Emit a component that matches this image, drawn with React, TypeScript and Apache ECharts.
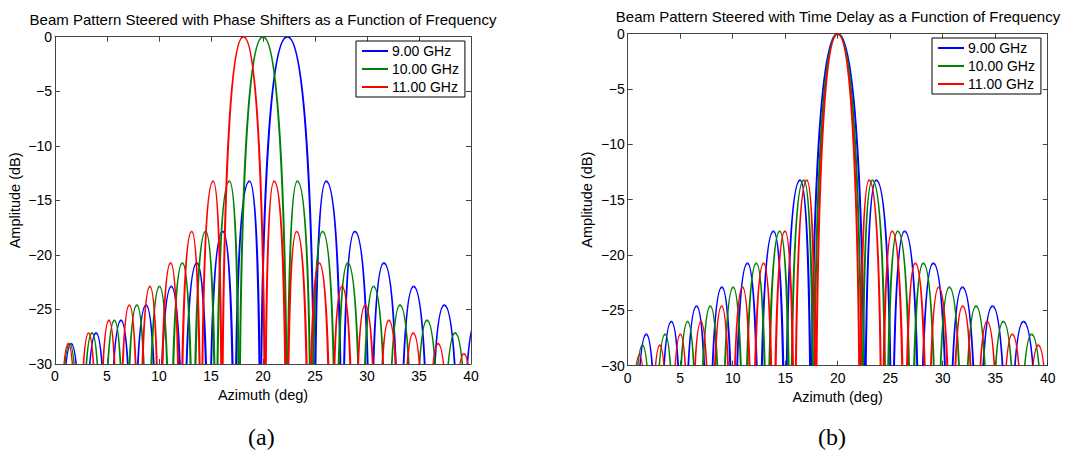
import React, { useEffect, useRef } from "react";
import * as echarts from "echarts";

// ---- data ----
// each lobe: [left null (deg), peak azimuth (deg), right null (deg), peak level (dB)]
const freqNames = ["9.00 GHz", "10.00 GHz", "11.00 GHz"];
const lineColors = ["#0000ff", "#008000", "#ff0000"];
const azimuthTicks = [0, 5, 10, 15, 20, 25, 30, 35, 40];
const amplitudeTicks = [-30, -25, -20, -15, -10, -5, 0];

// (a) steered with phase shifters
const phase9 = [
  [0.34, 1.56, 2.73, -28.15], [2.73, 3.95, 5.11, -27.15], [5.11, 6.35, 7.51, -26.0],
  [7.51, 8.76, 9.92, -24.6], [9.92, 11.19, 12.35, -22.9], [12.35, 13.64, 14.79, -20.75],
  [14.79, 16.13, 17.27, -17.85], [17.27, 18.7, 19.78, -13.25], [19.78, 22.34, 24.93, 0],
  [24.93, 26.07, 27.59, -13.25], [27.59, 28.83, 30.31, -17.85], [30.31, 31.62, 33.11, -20.75],
  [33.11, 34.48, 36.0, -22.9], [36.0, 37.43, 39.0, -24.6], [39.0, 40.5, 42.14, -26.0],
];
const phase10 = [
  [0.31, 1.41, 2.45, -28.15], [2.45, 3.56, 4.6, -27.15], [4.6, 5.71, 6.75, -26.0],
  [6.75, 7.87, 8.92, -24.6], [8.92, 10.05, 11.09, -22.9], [11.09, 12.25, 13.29, -20.75],
  [13.29, 14.48, 15.5, -17.85], [15.5, 16.77, 17.74, -13.25], [17.74, 20.0, 22.3, 0],
  [22.3, 23.3, 24.63, -13.25], [24.63, 25.72, 27.01, -17.85], [27.01, 28.15, 29.45, -20.75],
  [29.45, 30.63, 31.94, -22.9], [31.94, 33.17, 34.5, -24.6], [34.5, 35.77, 37.14, -26.0],
  [37.14, 38.47, 39.88, -27.15], [39.88, 41.26, 42.74, -28.15],
];
const phase11 = [
  [0.28, 1.28, 2.23, -28.15], [2.23, 3.23, 4.18, -27.15], [4.18, 5.19, 6.14, -26.0],
  [6.14, 7.15, 8.1, -24.6], [8.1, 9.13, 10.07, -22.9], [10.07, 11.12, 12.06, -20.75],
  [12.06, 13.14, 14.06, -17.85], [14.06, 15.21, 16.08, -13.25], [16.08, 18.12, 20.18, 0],
  [20.18, 21.07, 22.27, -13.25], [22.27, 23.24, 24.39, -17.85], [24.39, 25.4, 26.55, -20.75],
  [26.55, 27.59, 28.75, -22.9], [28.75, 29.82, 30.99, -24.6], [30.99, 32.1, 33.29, -26.0],
  [33.29, 34.44, 35.66, -27.15], [35.66, 36.84, 38.09, -28.15], [38.09, 39.31, 40.61, -29.05],
];

// (b) steered with time delay
const delay9 = [
  [0.55, 1.77, 2.93, -27.15], [2.93, 4.16, 5.32, -26.0], [5.32, 6.56, 7.71, -24.6],
  [7.71, 8.97, 10.13, -22.9], [10.13, 11.41, 12.55, -20.75], [12.55, 13.88, 15.01, -17.85],
  [15.01, 16.42, 17.49, -13.25], [17.49, 20.0, 22.56, 0], [22.56, 23.67, 25.16, -13.25],
  [25.16, 26.37, 27.82, -17.85], [27.82, 29.1, 30.55, -20.75], [30.55, 31.88, 33.35, -22.9],
  [33.35, 34.74, 36.25, -24.6], [36.25, 37.7, 39.27, -26.0], [39.27, 40.78, 42.41, -27.15],
];
const delay10 = [
  [0.31, 1.41, 2.45, -28.15], [2.45, 3.56, 4.6, -27.15], [4.6, 5.71, 6.75, -26.0],
  [6.75, 7.87, 8.92, -24.6], [8.92, 10.05, 11.09, -22.9], [11.09, 12.25, 13.29, -20.75],
  [13.29, 14.48, 15.5, -17.85], [15.5, 16.77, 17.74, -13.25], [17.74, 20.0, 22.3, 0],
  [22.3, 23.3, 24.63, -13.25], [24.63, 25.72, 27.01, -17.85], [27.01, 28.15, 29.45, -20.75],
  [29.45, 30.63, 31.94, -22.9], [31.94, 33.17, 34.5, -24.6], [34.5, 35.77, 37.14, -26.0],
  [37.14, 38.47, 39.88, -27.15], [39.88, 41.26, 42.74, -28.15],
];
const delay11 = [
  [0.12, 1.11, 2.06, -29.05], [2.06, 3.06, 4.02, -28.15], [4.02, 5.02, 5.97, -27.15],
  [5.97, 6.98, 7.93, -26.0], [7.93, 8.95, 9.91, -24.6], [9.91, 10.94, 11.89, -22.9],
  [11.89, 12.94, 13.89, -20.75], [13.89, 14.98, 15.9, -17.85], [15.9, 17.06, 17.94, -13.25],
  [17.94, 20.0, 22.09, 0], [22.09, 22.99, 24.21, -13.25], [24.21, 25.19, 26.36, -17.85],
  [26.36, 27.39, 28.56, -20.75], [28.56, 29.62, 30.8, -22.9], [30.8, 31.9, 33.09, -24.6],
  [33.09, 34.23, 35.45, -26.0], [35.45, 36.63, 37.88, -27.15], [37.88, 39.1, 40.39, -28.15],
];

const FONT = "Liberation Sans, Arial, Helvetica, sans-serif";
const AXIS_COLOR = "#444444";

function minusFmt(v: number) {
  return v < 0 ? "\u2212" + Math.abs(v) : String(v);
}

function lobeRenderer(color: string) {
  return (_params: any, api: any) => {
    const nL = api.value(0);
    const p = api.value(1);
    const nR = api.value(2);
    const lv = api.value(3);
    const depth = 40;
    const k = lv === 0 ? 0.75 : 0.9;
    const c = (x: number, y: number) => api.coord([x, y]);
    const A = c(nL, lv - depth);
    const A1 = c(nL, lv - depth / 2);
    const A2 = c(p - k * (p - nL), lv);
    const P = c(p, lv);
    const B1 = c(p + k * (nR - p), lv);
    const B2 = c(nR, lv - depth / 2);
    const B = c(nR, lv - depth);
    const style = { stroke: color, lineWidth: 2, fill: "none" };
    return {
      type: "group",
      children: [
        {
          type: "bezierCurve",
          shape: { x1: A[0], y1: A[1], cpx1: A1[0], cpy1: A1[1], cpx2: A2[0], cpy2: A2[1], x2: P[0], y2: P[1] },
          style,
        },
        {
          type: "bezierCurve",
          shape: { x1: P[0], y1: P[1], cpx1: B1[0], cpy1: B1[1], cpx2: B2[0], cpy2: B2[1], x2: B[0], y2: B[1] },
          style,
        },
      ],
    };
  };
}

function makeAxes(gridIndex: number) {
  const common = {
    gridIndex,
    type: "value" as const,
    axisLine: { show: true, onZero: false, lineStyle: { color: AXIS_COLOR, width: 1 } },
    axisTick: { show: true, inside: true, length: 5, lineStyle: { color: AXIS_COLOR } },
    splitLine: { show: false },
  };
  const xAxes = [
    {
      ...common,
      position: "bottom",
      min: azimuthTicks[0],
      max: azimuthTicks[azimuthTicks.length - 1],
      interval: 5,
      name: "Azimuth (deg)",
      nameLocation: "middle",
      nameGap: 20,
      nameTextStyle: { fontFamily: FONT, fontSize: 14.5, color: "#000" },
      axisLabel: { fontFamily: FONT, fontSize: 14, color: "#000", margin: 5 },
    },
    {
      ...common,
      position: "top",
      min: azimuthTicks[0],
      max: azimuthTicks[azimuthTicks.length - 1],
      interval: 5,
      axisLabel: { show: false },
    },
  ];
  const yAxes = [
    {
      ...common,
      position: "left",
      min: amplitudeTicks[0],
      max: amplitudeTicks[amplitudeTicks.length - 1],
      interval: 5,
      name: "Amplitude (dB)",
      nameLocation: "middle",
      nameGap: 33,
      nameTextStyle: { fontFamily: FONT, fontSize: 14.5, color: "#000" },
      axisLabel: { fontFamily: FONT, fontSize: 14, color: "#000", margin: 3, formatter: minusFmt },
    },
    {
      ...common,
      position: "right",
      min: amplitudeTicks[0],
      max: amplitudeTicks[amplitudeTicks.length - 1],
      interval: 5,
      axisLabel: { show: false },
    },
  ];
  return { xAxes, yAxes };
}

function legendFor(left: number, top: number) {
  return {
    orient: "vertical",
    left,
    top,
    data: freqNames,
    icon: "rect",
    itemWidth: 26,
    itemHeight: 2,
    itemGap: 4,
    padding: [3, 6, 3, 6],
    borderColor: "#000",
    borderWidth: 1,
    backgroundColor: "#fff",
    selectedMode: false,
    textStyle: { fontFamily: FONT, fontSize: 14, color: "#000", padding: [0, 0, 0, -1] },
  };
}

export default function App() {
  const ref = useRef<HTMLDivElement>(null);
  useEffect(() => {
    if (!ref.current) return;
    const chart = echarts.init(ref.current, undefined, { renderer: "svg" });
    const a = makeAxes(0);
    const b = makeAxes(1);
    const seriesA = [phase9, phase10, phase11];
    const seriesB = [delay9, delay10, delay11];
    const series: any[] = [];
    seriesA.forEach((d, i) => {
      series.push({
        type: "custom",
        name: freqNames[i],
        xAxisIndex: 0,
        yAxisIndex: 0,
        clip: true,
        itemStyle: { color: lineColors[i] },
        encode: { x: [0, 1, 2], y: 3 },
        renderItem: lobeRenderer(lineColors[i]),
        data: d,
        silent: true,
      });
    });
    seriesB.forEach((d, i) => {
      series.push({
        type: "custom",
        name: freqNames[i],
        xAxisIndex: 2,
        yAxisIndex: 2,
        clip: true,
        itemStyle: { color: lineColors[i] },
        encode: { x: [0, 1, 2], y: 3 },
        renderItem: lobeRenderer(lineColors[i]),
        data: d,
        silent: true,
      });
    });
    chart.setOption({
      animation: false,
      backgroundColor: "#fff",
      title: [
        {
          text: "Beam Pattern Steered with Phase Shifters as a Function of Frequency",
          left: 263,
          top: 12,
          padding: 0,
          textAlign: "center",
          textStyle: { fontFamily: FONT, fontSize: 15, fontWeight: "normal", color: "#000" },
        },
        {
          text: "Beam Pattern Steered with Time Delay as a Function of Frequency",
          left: 838,
          top: 9,
          padding: 0,
          textAlign: "center",
          textStyle: { fontFamily: FONT, fontSize: 15, fontWeight: "normal", color: "#000" },
        },
      ],
      legend: [legendFor(356, 41), legendFor(932, 38)],
      grid: [
        { left: 55, top: 36.7, width: 416, height: 327.3, show: false },
        { left: 627.7, top: 33.7, width: 420, height: 332, show: false },
      ],
      xAxis: [...a.xAxes, ...b.xAxes],
      yAxis: [...a.yAxes, ...b.yAxes],
      graphic: [
        {
          type: "text",
          left: 248,
          top: 425,
          style: { text: "(a)", font: "24px 'Liberation Serif', serif", fill: "#000", textAlign: "center" },
        },
        {
          type: "text",
          left: 818,
          top: 425,
          style: { text: "(b)", font: "24px 'Liberation Serif', serif", fill: "#000", textAlign: "center" },
        },
      ],
      series,
    });
    return () => chart.dispose();
  }, []);
  return (
    <div
      ref={ref}
      style={{ position: "absolute", left: 0, top: 0, width: 1065, height: 450 }}
    />
  );
}
